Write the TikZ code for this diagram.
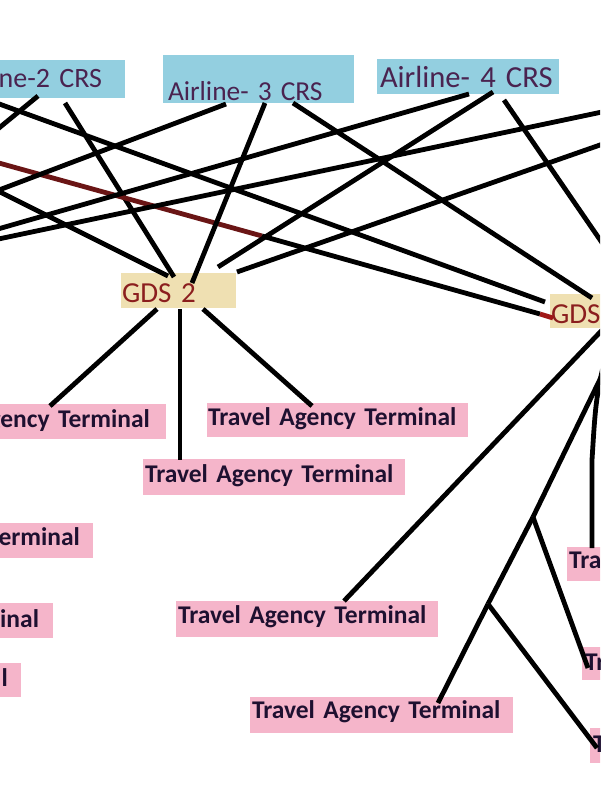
\documentclass[tikz,border=0pt]{standalone}
\usepackage{fontspec}
\setmainfont{Carlito}
\definecolor{airfill}{HTML}{93CFE0}
\definecolor{airtext}{HTML}{4A2350}
\definecolor{gdsfill}{HTML}{EFE0B2}
\definecolor{gdstext}{HTML}{8B1E1E}
\definecolor{tafill}{HTML}{F5B5CA}
\definecolor{tatext}{HTML}{1E1030}
\definecolor{maroonline}{HTML}{6A1515}
\definecolor{redtipcol}{HTML}{A01818}
\newcommand\tafont{\bfseries\fontsize{25.5}{27}\selectfont}
\begin{document}
\begin{tikzpicture}[x=1pt,y=-1pt,
  box/.style={inner ysep=0pt, outer sep=0pt},
  airbox/.style={box, fill=airfill, text=airtext},
  gdsbox/.style={box, fill=gdsfill, text=gdstext, font=\fontsize{29}{31}\selectfont},
  tabox/.style={box, fill=tafill, text=tatext, font=\tafont},
  link/.style={line width=4.8pt, draw=black, line join=round},
  maroonlink/.style={line width=4.8pt, draw=maroonline},
]
\useasboundingbox (0,0) rectangle (600,800);
\fill[white] (0,0) rectangle (600,800);
\clip (0,0) rectangle (600,800);

% Airline CRS boxes
\node[airbox, anchor=north east, text height=28pt, text depth=10pt, inner xsep=23pt,
      text width=180pt, align=right, font=\fontsize{28}{30}\selectfont] (a2) at (125,60) {ne-2 CRS};
\node[airbox, anchor=north west, text height=45pt, text depth=3pt, inner xsep=5pt,
      text width=181pt, align=left, font=\fontsize{27.4}{30}\selectfont] (a3) at (163,55) {Airline- 3 CRS};
\node[airbox, anchor=north west, text height=29pt, text depth=6pt, inner xsep=3pt,
      text width=176pt, align=left, font=\fontsize{30.6}{33}\selectfont] (a4) at (377,59) {\mbox{Airline- 4 CRS}};

% GDS boxes
\node[gdsbox, anchor=north west, text height=29pt, text depth=6pt, inner xsep=1pt,
      text width=113pt, align=left] (g2) at (121,273) {GDS 2};
\node[gdsbox, anchor=north west, text height=29pt, text depth=5pt, inner xsep=1pt,
      text width=120pt, align=left] (g3) at (550,294) {GDS};

% Travel agency terminals
\node[tabox, anchor=north east, text height=23pt, text depth=12pt, inner xsep=16pt,
      text width=240pt, align=right] (t1) at (166,404) {gency Terminal};
\node[tabox, anchor=north west, text height=22pt, text depth=12pt, inner xsep=1pt,
      text width=259pt, align=left] (t2) at (207,403) {Travel Agency Terminal};
\node[tabox, anchor=north west, text height=23pt, text depth=13pt, inner xsep=2pt,
      text width=258pt, align=left] (t3) at (143,459) {Travel Agency Terminal};
\node[tabox, anchor=north east, text height=22pt, text depth=13pt, inner xsep=13pt,
      text width=200pt, align=right] (t4) at (93,523) {erminal};
\node[tabox, anchor=north east, text height=24pt, text depth=11pt, inner xsep=14pt,
      text width=200pt, align=right] (t5) at (53,603) {inal};
\node[tabox, anchor=north east, text height=23pt, text depth=11pt, inner xsep=13pt,
      text width=200pt, align=right] (t6) at (21,663) {l};
\node[tabox, anchor=north west, text height=22pt, text depth=14pt, inner xsep=2pt,
      text width=258pt, align=left] (t8) at (176,601) {Travel Agency Terminal};
\node[tabox, anchor=north west, text height=21pt, text depth=15pt, inner xsep=2pt,
      text width=259pt, align=left] (t9) at (250,697) {Travel Agency Terminal};
\node[tabox, anchor=north west, text height=21pt, text depth=13pt, inner xsep=2pt,
      text width=200pt, align=left] (t10) at (567,547) {Tra};
\node[tabox, anchor=north west, text height=23pt, text depth=10pt, inner xsep=3pt,
      text width=200pt, align=left] (t11) at (582,647) {Tr};
\node[tabox, anchor=north west, text height=24pt, text depth=11pt, inner xsep=3pt,
      text width=200pt, align=left] (t12) at (590,728) {T};

% ports on the boxes
\coordinate (a2pA) at ([xshift=-87pt,yshift=2pt]a2.south east);
\coordinate (a2pB) at ([xshift=-60pt,yshift=-5pt]a2.south east);
\coordinate (a2pC) at ([xshift=-145pt,yshift=1pt]a2.south east);
\coordinate (a3pA) at ([xshift=63pt,yshift=-1pt]a3.south west);
\coordinate (a3pB) at ([xshift=102pt]a3.south west);
\coordinate (a3pC) at ([xshift=130pt]a3.south west);
\coordinate (a4pA) at ([xshift=92pt]a4.south west);
\coordinate (a4pB) at ([xshift=116pt,yshift=2pt]a4.south west);
\coordinate (a4pC) at ([xshift=127pt,yshift=-6pt]a4.south west);
\coordinate (g2iA) at ([xshift=53pt,yshift=-4pt]g2.north west);
\coordinate (g2iB) at ([xshift=47pt,yshift=-3pt]g2.north west);
\coordinate (g2iC) at ([xshift=71pt,yshift=-10pt]g2.north west);
\coordinate (g2iD) at ([xshift=97pt,yshift=6pt]g2.north west);
\coordinate (g2iE) at ([xshift=116pt,yshift=1pt]g2.north west);
\coordinate (g2oA) at ([xshift=36pt,yshift=-1pt]g2.south west);
\coordinate (g2oB) at ([xshift=59pt,yshift=-1pt]g2.south west);
\coordinate (g2oC) at ([xshift=82pt,yshift=-1pt]g2.south west);
\coordinate (g3iA) at ([xshift=-5pt,yshift=-8pt]g3.north west);
\coordinate (g3iB) at ([xshift=3pt,yshift=-24pt]g3.north west);
\coordinate (g3iC) at ([xshift=42pt,yshift=-4pt]g3.north west);
\coordinate (g3iD) at ([xshift=90pt,yshift=-4pt]g3.north west);
\coordinate (g3oA) at ([xshift=55pt,yshift=1pt]g3.south west);
\coordinate (g3oB) at ([xshift=74pt,yshift=-2pt]g3.south west);
\coordinate (g3oC) at ([xshift=62pt,yshift=-2pt]g3.south west);
\coordinate (t1e) at ([xshift=-116pt,yshift=-2pt]t1.north east);
\coordinate (t2e) at ([xshift=105pt,yshift=-3pt]t2.north west);
\coordinate (t3e) at ([xshift=37pt,yshift=-1pt]t3.north west);
\coordinate (t8e) at ([xshift=168pt]t8.north west);
\coordinate (t9e) at ([xshift=188pt,yshift=-6pt]t9.north west);
\coordinate (t10e) at ([xshift=25pt,yshift=-1pt]t10.north west);
\coordinate (t11e) at ([xshift=6pt,yshift=-21pt]t11.north west);
\coordinate (t12e) at ([xshift=7pt,yshift=-20pt]t12.north west);

% free ends beyond the frame and junctions
\coordinate (offA) at (-40,160);
\coordinate (offB) at (-30,177);
\coordinate (offC) at (-30,155);
\coordinate (offD) at (-30,201);
\coordinate (offE) at (-30,237);
\coordinate (offF) at (-30,245);
\coordinate (offG) at (640,104);
\coordinate (offH) at (640,131);
\coordinate (redmid) at (262,236);
\coordinate (redtip) at (540,314);
\coordinate (f1) at (533,517);
\coordinate (f2) at (488,604);
\coordinate (bend) at (592,460);

% connectors
\draw[link] (a2pA) -- (offA);
\draw[link] (a2pB) -- (g2iA);
\draw[link] (offB) -- (g2iB);
\draw[maroonlink] (offC) -- (redmid);
\draw[link] (redmid) -- (redtip);
\draw[link, draw=redtipcol] (redtip) -- (g3iB);
\draw[link] (a2pC) -- (g3iA);
\draw[link] (a3pA) -- (offD);
\draw[link] (a3pB) -- (g2iC);
\draw[link] (a3pC) -- (g3iC);
\draw[link] (a4pA) -- (offE);
\draw[link] (a4pB) -- (g2iD);
\draw[link] (a4pC) -- (g3iD);
\draw[link] (offG) -- (offF);
\draw[link] (offH) -- (g2iE);
\draw[link] (g2oA) -- (t1e);
\draw[link] (g2oB) -- (t3e);
\draw[link] (g2oC) -- (t2e);
\draw[link] (g3oA) -- (t8e);
\draw[link] (g3oB) -- (f1);
\draw[link] (f1) -- (f2);
\draw[link] (f1) -- (t11e);
\draw[link] (f2) -- (t9e);
\draw[link] (f2) -- (t12e);
\draw[link] (g3oC) .. controls (596,395) .. (bend) -- (t10e);
\end{tikzpicture}
\end{document}
